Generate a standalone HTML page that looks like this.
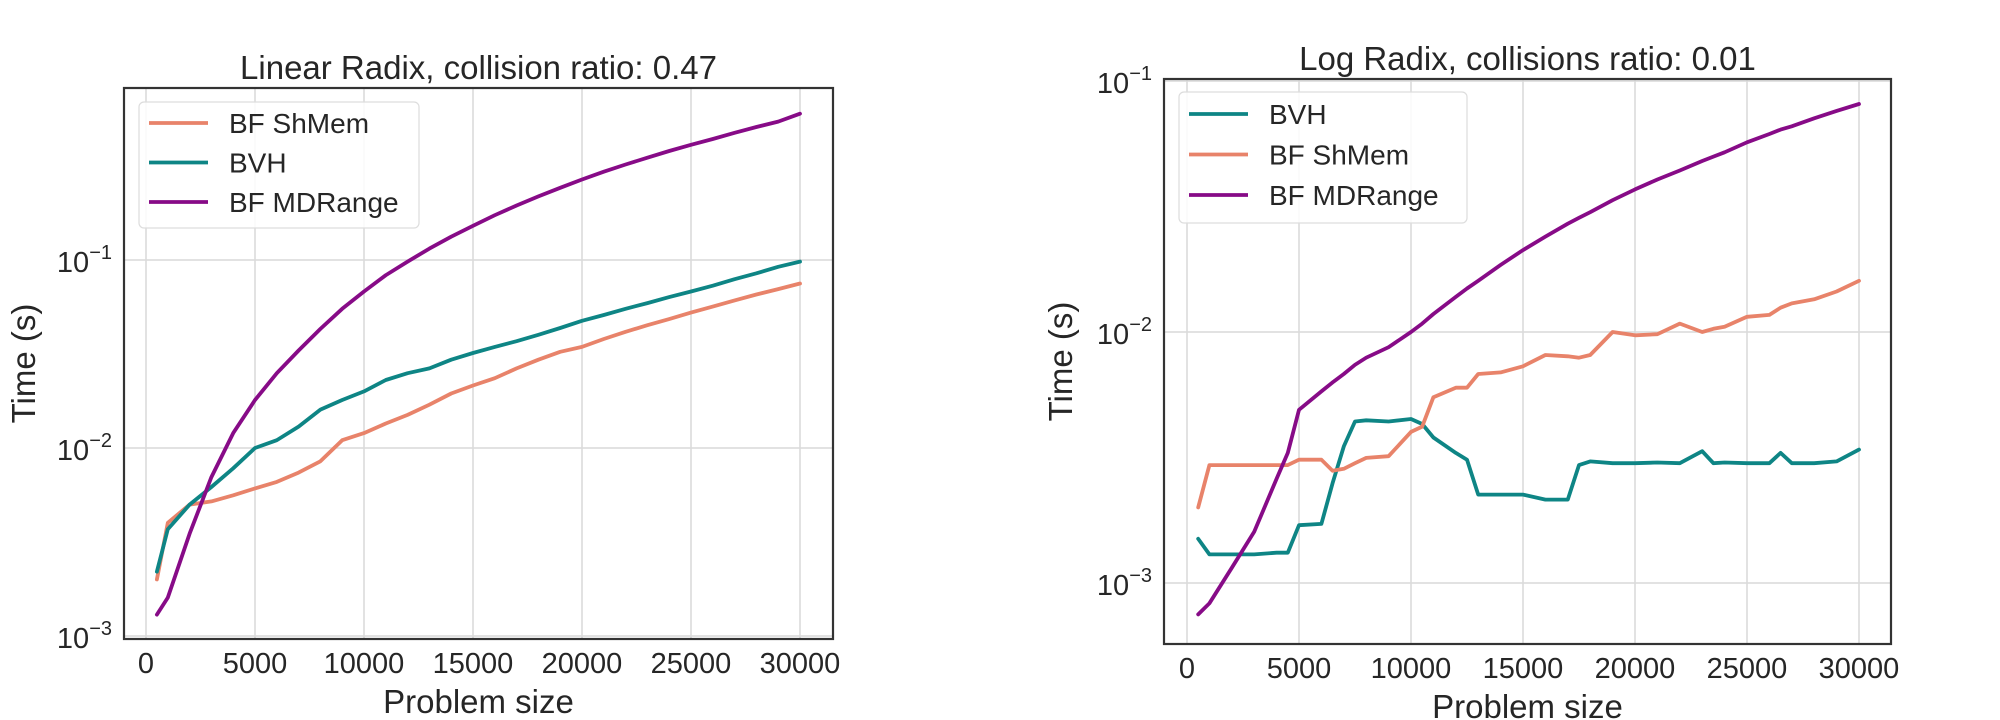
<!DOCTYPE html>
<html><head><meta charset="utf-8">
<style>
html,body{margin:0;padding:0;background:#fff;}
svg{display:block;font-family:"Liberation Sans","DejaVu Sans",sans-serif;}
</style></head>
<body>
<svg id="fig" width="2000" height="720" viewBox="0 0 2000 720" xmlns="http://www.w3.org/2000/svg"></svg>
<script>
// ---- Left chart data ----
const leftX = [500,1000,2000,3000,4000,5000,6000,7000,8000,9000,10000,11000,12000,13000,14000,15000,16000,17000,18000,19000,20000,21000,22000,23000,24000,25000,26000,27000,28000,29000,30000];
const leftShMem = [2e-3,4e-3,5e-3,5.2e-3,5.6e-3,6.1e-3,6.6e-3,7.4e-3,8.5e-3,1.1e-2,1.2e-2,1.35e-2,1.5e-2,1.7e-2,1.95e-2,2.15e-2,2.35e-2,2.65e-2,2.95e-2,3.25e-2,3.45e-2,3.8e-2,4.15e-2,4.5e-2,4.85e-2,5.25e-2,5.65e-2,6.1e-2,6.55e-2,7e-2,7.5e-2];
const leftBVH = [2.2e-3,3.7e-3,5e-3,6.2e-3,7.8e-3,1.0e-2,1.1e-2,1.3e-2,1.6e-2,1.8e-2,2.0e-2,2.3e-2,2.5e-2,2.65e-2,2.95e-2,3.2e-2,3.45e-2,3.7e-2,4.0e-2,4.35e-2,4.75e-2,5.1e-2,5.5e-2,5.9e-2,6.35e-2,6.8e-2,7.3e-2,7.9e-2,8.5e-2,9.2e-2,9.8e-2];
const leftMDRange = [1.3e-3,1.6e-3,3.5e-3,7e-3,1.2e-2,1.8e-2,2.5e-2,3.3e-2,4.3e-2,5.5e-2,6.8e-2,8.3e-2,0.098,0.115,0.133,0.152,0.173,0.195,0.218,0.242,0.268,0.295,0.322,0.35,0.38,0.41,0.44,0.475,0.51,0.545,0.6];
// ---- Right chart data ----
const rightX = [500,1000,2000,3000,4000,4500,5000,6000,6500,7000,7500,8000,9000,10000,10500,11000,12000,12500,13000,14000,15000,16000,17000,17500,18000,19000,20000,21000,22000,23000,23500,24000,25000,26000,26500,27000,28000,29000,30000];
const rightBVH = [1.5e-3,1.3e-3,1.3e-3,1.3e-3,1.32e-3,1.32e-3,1.7e-3,1.72e-3,2.5e-3,3.5e-3,4.4e-3,4.45e-3,4.4e-3,4.5e-3,4.3e-3,3.8e-3,3.3e-3,3.1e-3,2.25e-3,2.25e-3,2.25e-3,2.15e-3,2.15e-3,2.95e-3,3.05e-3,3.0e-3,3.0e-3,3.02e-3,3.0e-3,3.35e-3,3.0e-3,3.02e-3,3.0e-3,3.0e-3,3.3e-3,3.0e-3,3.0e-3,3.05e-3,3.4e-3];
const rightShMem = [2e-3,2.95e-3,2.95e-3,2.95e-3,2.95e-3,2.95e-3,3.1e-3,3.1e-3,2.8e-3,2.85e-3,3.0e-3,3.15e-3,3.2e-3,4.0e-3,4.2e-3,5.5e-3,6.0e-3,6.0e-3,6.8e-3,6.9e-3,7.3e-3,8.1e-3,8.0e-3,7.9e-3,8.1e-3,1.0e-2,9.7e-3,9.8e-3,1.08e-2,1.0e-2,1.03e-2,1.05e-2,1.15e-2,1.17e-2,1.25e-2,1.3e-2,1.35e-2,1.45e-2,1.6e-2];
const rightMDRange = [7.5e-4,8.3e-4,1.15e-3,1.6e-3,2.6e-3,3.3e-3,4.9e-3,5.8e-3,6.3e-3,6.8e-3,7.4e-3,7.9e-3,8.7e-3,1.0e-2,1.08e-2,1.18e-2,1.38e-2,1.49e-2,1.6e-2,1.85e-2,2.12e-2,2.4e-2,2.7e-2,2.85e-2,3.0e-2,3.35e-2,3.7e-2,4.05e-2,4.4e-2,4.8e-2,5.0e-2,5.2e-2,5.7e-2,6.15e-2,6.4e-2,6.6e-2,7.1e-2,7.6e-2,8.1e-2];
const xTicks = [0,5000,10000,15000,20000,25000,30000];
const yTickExps = [-3,-2,-1];

const NS = "http://www.w3.org/2000/svg";
const svg = document.getElementById('fig');
const C = {sh:"#e8836a", bvh:"#0e8585", md:"#870b87"};
function el(tag, attrs, parent){const e=document.createElementNS(NS,tag);for(const k in attrs)e.setAttribute(k,attrs[k]);(parent||svg).appendChild(e);return e;}

function chart(cfg){
  const g = el('g',{});
  
  
  const xs = v => cfg.x0 + (v/30000)*(cfg.x1-cfg.x0);
  const ys = v => cfg.yAtM2 - (Math.log10(v)+2)*cfg.dec;
  xTicks.forEach(t=>{ const l=el('line',{x1:xs(t),x2:xs(t),y1:cfg.top,y2:cfg.bottom,stroke:"#d9d9d9","stroke-width":1.5},g);
     
    const tx=el('text',{x:xs(t),y:cfg.bottom+34,"text-anchor":"middle","font-size":29,fill:"#262626"},g); tx.textContent=t;
     
  });
  yTickExps.forEach(e=>{ const y=ys(Math.pow(10,e)); if(y<cfg.top-4||y>cfg.bottom+2) return;
    const l=el('line',{x1:cfg.left,x2:cfg.right,y1:y,y2:y,stroke:"#d9d9d9","stroke-width":1.5},g);
     
    const tx=el('text',{x:cfg.left-12,y:y+12,"text-anchor":"end","font-size":29,fill:"#262626"},g);
     
    tx.appendChild(document.createTextNode("10"));
    const sp=el('tspan',{dy:-13,"font-size":20},tx); sp.textContent="\u2212"+(-e);
  });
  cfg.series.forEach(s=>{
    const d = cfg.xs.map((v,i)=>(i?'L':'M')+xs(v).toFixed(1)+','+ys(s.vals[i]).toFixed(1)).join('');
    const p=el('path',{d:d,fill:"none",stroke:s.color,"stroke-width":3.8,"stroke-linejoin":"round","stroke-linecap":"round"},g);
     
  });
  const f=el('rect',{x:cfg.left,y:cfg.top,width:cfg.right-cfg.left,height:cfg.bottom-cfg.top,fill:"none",stroke:"#333","stroke-width":2.2},g);
   
  const t=el('text',{x:(cfg.left+cfg.right)/2,y:cfg.titleY,"text-anchor":"middle","font-size":33,fill:"#262626"},g);
  t.textContent=cfg.title;  
  const xl=el('text',{x:(cfg.left+cfg.right)/2,y:cfg.bottom+74,"text-anchor":"middle","font-size":33,fill:"#262626"},g);
  xl.textContent="Problem size";  
  const yl=el('text',{x:0,y:0,"text-anchor":"middle","font-size":33,fill:"#262626",transform:`translate(${cfg.ylabX},${(cfg.top+cfg.bottom)/2}) rotate(-90)`},g);
  yl.textContent="Time (s)";  
  const L=cfg.legend;
  const lb=el('rect',{x:L.x,y:L.y,width:L.w,height:L.h,rx:5,fill:"#fff","fill-opacity":0.85,stroke:"#ddd","stroke-width":1.2},g);
   
  L.items.forEach((it,i)=>{
    const y=L.firstY+i*L.gap;
    const ln=el('line',{x1:L.x+10,x2:L.x+69,y1:y,y2:y,stroke:it.color,"stroke-width":3.8},g);
     
    const tx=el('text',{x:L.x+90,y:y+10,"font-size":28,fill:"#262626"},g); tx.textContent=it.label;
     
  });
}

chart({name:'left-chart',left:124,right:833,top:88,bottom:639,x0:146,x1:800,yAtM2:448,dec:188,
  xs:leftX,title:"Linear Radix, collision ratio: 0.47",titleY:79,ylabX:35,
  series:[{id:'bf-shmem',vals:leftShMem,color:C.sh},{id:'bvh',vals:leftBVH,color:C.bvh},{id:'bf-mdrange',vals:leftMDRange,color:C.md}],
  legend:{x:139,y:102,w:280,h:126,firstY:123,gap:39.5,items:[{label:"BF ShMem",color:C.sh},{label:"BVH",color:C.bvh},{label:"BF MDRange",color:C.md}]}});
chart({name:'right-chart',left:1164,right:1891,top:79,bottom:644,x0:1187,x1:1859,yAtM2:332,dec:251,
  xs:rightX,title:"Log Radix, collisions ratio: 0.01",titleY:70,ylabX:1072,
  series:[{id:'bvh',vals:rightBVH,color:C.bvh},{id:'bf-shmem',vals:rightShMem,color:C.sh},{id:'bf-mdrange',vals:rightMDRange,color:C.md}],
  legend:{x:1179,y:92,w:288,h:131,firstY:114,gap:40.5,items:[{label:"BVH",color:C.bvh},{label:"BF ShMem",color:C.sh},{label:"BF MDRange",color:C.md}]}});
</script>
</body></html>
